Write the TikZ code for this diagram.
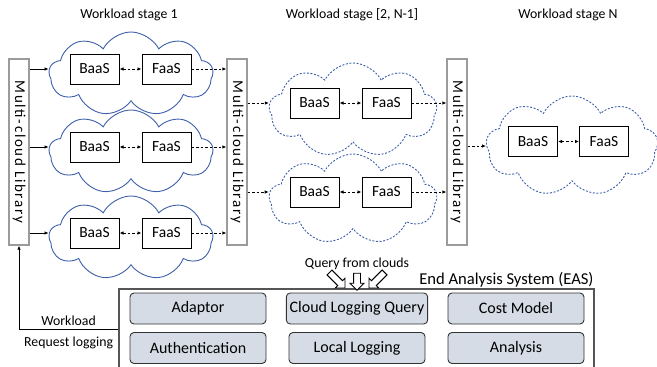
\documentclass[tikz,border=0pt]{standalone}
\usepackage{fontspec}
\usepackage{graphicx}
\setmainfont{Carlito}
\newfontfamily\libfont[LetterSpace = 11]{Carlito}
\usetikzlibrary{shapes.symbols, shapes.arrows, arrows.meta, positioning}

\definecolor{cloudblue}{RGB}{62, 96, 170}
\definecolor{libgray}{RGB}{155, 155, 155}
\definecolor{easgray}{RGB}{85, 85, 85}
\definecolor{modfill}{RGB}{214, 220, 229}

\tikzset{
	label text/.style = {font = \fontsize{13.8}{16}\selectfont},
	svc/.style = {draw, line width = 1pt, fill = white, minimum width = 49pt, minimum height = 30pt, inner sep = 0pt, font = \fontsize{15.5}{18}\selectfont},
	lib/.style = {draw = libgray, line width = 1.3pt, fill = white, minimum width = 20pt, minimum height = 186pt, inner sep = 0pt},
	sky/.style = {cloud, draw = cloudblue, line width = 0.9pt, cloud puffs = 9, cloud puff arc = 125, cloud ignores aspect},
	sky dashed/.style = {sky, dash pattern = on 2pt off 1.6pt},
	module/.style = {draw = black!80, fill = modfill, rounded corners = 4pt, line width = 0.9pt, minimum width = 136pt, minimum height = 31pt, font = \fontsize{16}{19}\selectfont},
	link/.style = {->, line width = 0.8pt},
	dlink/.style = {link, dash pattern = on 2.5pt off 2pt},
	hollow/.style = {single arrow, draw, line width = 0.9pt, fill = white, inner sep = 3pt, minimum width = 13pt, single arrow head extend = 3.5pt}
}

\newcommand{\libtext}{\rotatebox{-90}{\libfont\fontsize{15}{17}\selectfont Multi-cloud Library}}

\begin{document}
\begin{tikzpicture}[x = 1pt, y = -1pt, > = {Latex[length = 4pt, width = 3.5pt]}]

	\useasboundingbox (0, 0) rectangle (657, 367);

	% Stage titles

	\node [label text] (t1) at (129, 15) {Workload stage 1};
	\node [label text] (t2) at (352, 15) {Workload stage [2, N-1]};
	\node [label text] (t3) at (568, 15) {Workload stage N};

	% Multi-cloud libraries

	\node [lib] (lib0) at (19, 152) {\libtext};
	\node [lib] (lib1) at (237, 152) {\libtext};
	\node [lib] (lib2) at (457, 152) {\libtext};

	% Stage 1

	\foreach \r/\y in {1/69, 2/147, 3/233} {
		\node [sky, minimum width = 164pt, minimum height = 84pt] (c1\r) at (131, \y + 5) {};
		\node [svc] (b1\r) at (94.5, \y) {BaaS};
		\node [svc] (f1\r) at (166.5, \y) {FaaS};
		\draw [link] (b1\r.west -| lib0.east) -- (b1\r.west -| c1\r.west);
		\draw [dlink, <->] (b1\r) -- (f1\r);
		\draw [dlink] (f1\r) -- (f1\r.east -| lib1.west);
	}

	% Stage [2, N-1]

	\foreach \r/\y/\h in {1/103/94, 2/192/90} {
		\node [sky dashed, minimum width = 168pt, minimum height = \h pt] (c2\r) at (353, \y + 7) {};
		\node [svc] (b2\r) at (314.5, \y) {BaaS};
		\node [svc] (f2\r) at (386.5, \y) {FaaS};
		\draw [dlink] (b2\r.west -| lib1.east) -- (b2\r.west -| c2\r.west);
		\draw [dlink, <->] (b2\r) -- (f2\r);
		\draw [dlink] (f2\r) -- (f2\r.east -| lib2.west);
	}

	% Stage N

	\node [sky dashed, minimum width = 172pt, minimum height = 100pt] (c3) at (572, 146) {};
	\node [svc] (b3) at (533, 141.5) {BaaS};
	\node [svc] (f3) at (604, 141.5) {FaaS};
	\draw [dlink] (c3.west -| lib2.east) -- (c3.west);
	\draw [dlink, <->] (b3) -- (f3);

	% End analysis system

	\node [draw = easgray, line width = 1.5pt, minimum width = 475pt, minimum height = 80pt] (eas) at (356.5, 329) {};
	\node [font = \fontsize{16.6}{19}\selectfont, anchor = south east, inner sep = 1pt] (eastitle) at (eas.north east) {End Analysis System (EAS)};

	\foreach \n/\x/\y/\t in {ad/198/308.5/Adaptor, cq/357/308.5/Cloud Logging Query, cm/516/308.5/Cost Model, au/198/348/Authentication, ll/357/348/Local Logging, an/516/348/Analysis}
		\node [module] (\n) at (\x, \y) {\t};

	% Queries + workload

	\node [label text] (query) at (357, 264) {Query from clouds};
	\node [hollow, rotate = -45, minimum height = 22pt] (qa) at (336, 279) {};
	\node [hollow, rotate = -90, minimum height = 17pt] (qb) at (357, 280) {};
	\node [hollow, rotate = -135, minimum height = 22pt] (qc) at (378, 279) {};

	\draw [link] (eas.west) -| (lib0.south)
		node [pos = 0.25, above, label text] (wl) {Workload}
		node [pos = 0.25, below = 4pt, label text] (rl) {Request logging};

\end{tikzpicture}
\end{document}
